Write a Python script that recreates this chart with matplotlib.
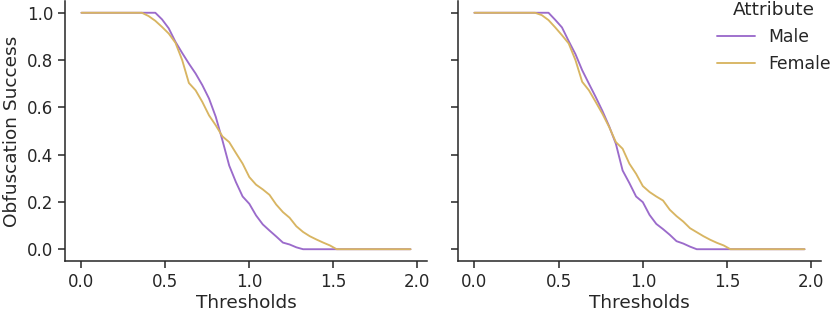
import numpy as np
import matplotlib
matplotlib.use("Agg")
import matplotlib.pyplot as plt
import seaborn as sns

thresholds = [round(0.04 * i, 2) for i in range(50)]

left_male = [1.0]*12 + [0.972, 0.934, 0.877, 0.83, 0.785, 0.743, 0.694, 0.637, 0.56, 0.46,
                        0.354, 0.284, 0.223, 0.192, 0.143, 0.105, 0.079, 0.054, 0.028, 0.02,
                        0.008] + [0.0]*17
left_female = [1.0]*10 + [0.986, 0.966, 0.94, 0.912, 0.873, 0.80, 0.703, 0.672, 0.623, 0.566,
                          0.524, 0.477, 0.453, 0.407, 0.362, 0.305, 0.273, 0.253, 0.23, 0.189,
                          0.157, 0.133, 0.097, 0.073, 0.055, 0.041, 0.028, 0.016] + [0.0]*12

right_male = [1.0]*12 + [0.97, 0.938, 0.88, 0.825, 0.757, 0.70, 0.644, 0.585, 0.52, 0.446,
                         0.333, 0.28, 0.223, 0.199, 0.145, 0.107, 0.085, 0.061, 0.034, 0.024,
                         0.011] + [0.0]*17
right_female = [1.0]*10 + [0.99, 0.969, 0.938, 0.905, 0.87, 0.80, 0.708, 0.672, 0.623, 0.573,
                           0.517, 0.453, 0.425, 0.362, 0.319, 0.267, 0.242, 0.223, 0.206, 0.167,
                           0.14, 0.117, 0.089, 0.072, 0.055, 0.04, 0.027, 0.016] + [0.0]*12

series_names = ["Male", "Female"]
colors = ["#9b6bcb", "#d8b562"]

sns.set_theme(style="ticks")
plt.rcParams['font.family'] = ['DejaVu Sans']
plt.rcParams['text.color'] = '#262626'
plt.rcParams['axes.labelcolor'] = '#262626'
plt.rcParams['xtick.color'] = '#262626'
plt.rcParams['ytick.color'] = '#262626'

fig = plt.figure(figsize=(8.31, 3.13), dpi=100)
ax1 = fig.add_axes([0.0782, 0.166, 0.4356, 0.831])
ax2 = fig.add_axes([0.551, 0.166, 0.437, 0.831], sharey=ax1)

panels = [(ax1, left_male, left_female), (ax2, right_male, right_female)]
for ax, m, f in panels:
    ax.plot(thresholds, m, color=colors[0], lw=1.35, label=series_names[0])
    ax.plot(thresholds, f, color=colors[1], lw=1.35, label=series_names[1])
    ax.set_xlabel("Thresholds", fontsize=13.3, labelpad=2)
    ax.set_xticks([0.0, 0.5, 1.0, 1.5, 2.0])
    ax.tick_params(labelsize=12, length=5, width=1.1, colors='#262626')
    for s in ['left', 'bottom']:
        ax.spines[s].set_linewidth(1.1)
        ax.spines[s].set_color('#262626')
    sns.despine(ax=ax)

ax1.set_yticks([0.0, 0.2, 0.4, 0.6, 0.8, 1.0])
ax1.set_ylabel("Obfuscation Success", fontsize=13.3)
plt.setp(ax2.get_yticklabels(), visible=False)

leg = ax2.legend(title="Attribute", loc="upper right", bbox_to_anchor=(1.07, 1.058),
                 frameon=False, fontsize=12.4, title_fontsize=13.3, handlelength=2.2,
                 labelspacing=0.5)

fig.savefig("out.png", dpi=100)
